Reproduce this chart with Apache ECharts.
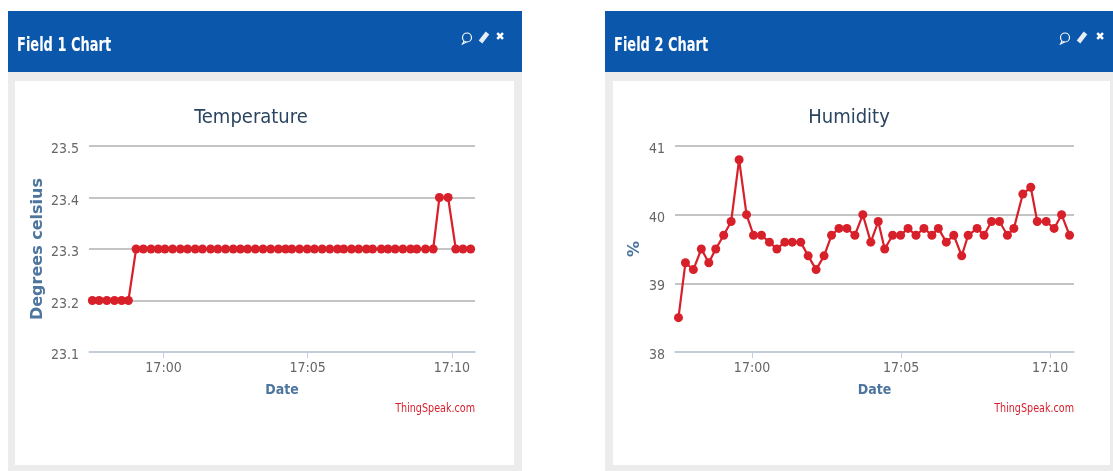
<!DOCTYPE html>
<html>
<head>
<meta charset="utf-8">
<style>html,body{margin:0;padding:0;background:#fff}#c{width:1113px;height:471px}</style>
<script src="https://cdn.jsdelivr.net/npm/echarts@6/dist/echarts.min.js"></script>
</head>
<body>
<div id="c"></div>
<script>
const times = ['16:57:32','16:57:46','16:58:02','16:58:18','16:58:33','16:58:47','16:59:03','16:59:18','16:59:34','16:59:49',
'17:00:03','17:00:19','17:00:35','17:00:50','17:01:06','17:01:21','17:01:38','17:01:53','17:02:09','17:02:25',
'17:02:40','17:02:55','17:03:11','17:03:27','17:03:43','17:03:59','17:04:14','17:04:27','17:04:43','17:04:59',
'17:05:14','17:05:30','17:05:46','17:06:02','17:06:15','17:06:31','17:06:46','17:07:02','17:07:15','17:07:33',
'17:07:47','17:08:02','17:08:18','17:08:34','17:08:47','17:09:05','17:09:21','17:09:34','17:09:52','17:10:08',
'17:10:23','17:10:39'];
const temperature = [23.2,23.2,23.2,23.2,23.2,23.2,
23.3,23.3,23.3,23.3,23.3,23.3,23.3,23.3,23.3,23.3,23.3,23.3,23.3,23.3,23.3,23.3,23.3,23.3,23.3,23.3,
23.3,23.3,23.3,23.3,23.3,23.3,23.3,23.3,23.3,23.3,23.3,23.3,23.3,23.3,23.3,23.3,23.3,23.3,23.3,23.3,23.3,
23.4,23.4,23.3,23.3,23.3];
const humidity = [38.5,39.3,39.2,39.5,39.3,39.5,39.7,39.9,40.8,40.0,
39.7,39.7,39.6,39.5,39.6,39.6,39.6,39.4,39.2,39.4,
39.7,39.8,39.8,39.7,40.0,39.6,39.9,39.5,39.7,39.7,
39.8,39.7,39.8,39.7,39.8,39.6,39.7,39.4,39.7,39.8,
39.7,39.9,39.9,39.7,39.8,40.3,40.4,39.9,39.9,39.8,
40.0,39.7];
const panelHeads = ['Field 1 Chart','Field 2 Chart'];
const chartTitles = ['Temperature','Humidity'];
const yNames = ['Degrees celsius','%'];
const xName = 'Date';
const credit = 'ThingSpeak.com';

const toDate = s => { const p = s.split(':').map(Number); return new Date(2016,0,1,p[0],p[1],p[2]).getTime(); };
const pairs = vals => times.map((t,i)=>[toDate(t), vals[i]]);

const RED = '#d8202a', BLUE = '#4d759e', GRAY = '#666', TITLE = '#2b4560';
const NARROW = '"DejaVu Sans Condensed",Lato,sans-serif';
const layouts = [
  {px:8,pw:514,wx:15,ww:499,gl:89,gr:475,nameGap:43,ymin:23.1,ymax:23.5,yint:0.1,dec:1,cx:251,icons:[467,484,500]},
  {px:605,pw:508,wx:613,ww:497,gl:675,gr:1074,nameGap:32,ymin:38,ymax:41,yint:1,dec:0,cx:849,icons:[1065,1082,1100]}
];

const gfx = [];
layouts.forEach((L,i)=>{
  gfx.push({type:'rect',z:-5,silent:true,shape:{x:L.px,y:72,width:L.pw,height:399},style:{fill:'#ececec'}});
  gfx.push({type:'rect',z:-4,silent:true,shape:{x:L.wx,y:81,width:L.ww,height:384},style:{fill:'#ffffff'}});
  gfx.push({type:'rect',z:-4,silent:true,shape:{x:L.px,y:11,width:L.pw,height:61},style:{fill:'#0b57ab'}});
  gfx.push({type:'text',z:-3,silent:true,x:L.px+9,y:46,scaleX:0.76,style:{x:0,y:0,text:panelHeads[i],fill:'#fff',font:'bold 19px '+NARROW,textVerticalAlign:'middle'}});
  gfx.push({type:'text',z:-3,silent:true,x:L.gr,y:409,scaleX:0.82,style:{x:0,y:0,text:credit,fill:'#d81e2c',font:'13px '+NARROW,textAlign:'right',textVerticalAlign:'middle'}});
  const [a,b,c] = L.icons;
  gfx.push({type:'circle',z:-3,silent:true,shape:{cx:a,cy:37.5,r:4.5},style:{fill:'none',stroke:'#fff',lineWidth:1.2}});
  gfx.push({type:'polyline',z:-3,silent:true,shape:{points:[[a-3,41],[a-4.5,44],[a-0.5,42]]},style:{fill:'none',stroke:'#fff',lineWidth:1.1}});
  gfx.push({type:'line',z:-3,silent:true,shape:{x1:b-3.5,y1:42,x2:b+3.5,y2:33},style:{stroke:'#e8eef6',lineWidth:4.5}});
  gfx.push({type:'text',z:-3,silent:true,style:{x:c,y:37.5,text:'\u2716',fill:'#fff',font:'11px "DejaVu Sans"',textAlign:'center',textVerticalAlign:'middle'}});
});

const option = {
  animation:false,
  backgroundColor:'#fff',
  graphic:{elements:gfx},
  title: layouts.map((L,i)=>(
    {text:chartTitles[i],left:L.cx,top:108,padding:0,textAlign:'center',textStyle:{color:TITLE,fontSize:20,fontWeight:'normal',fontFamily:NARROW}}
  )),
  grid: layouts.map(L=>({left:L.gl,width:L.gr-L.gl,top:146,height:206,containLabel:false})),
  xAxis: layouts.map((L,i)=>({
    type:'time',gridIndex:i,
    min:toDate('16:57:25'),max:toDate('17:10:48'),
    splitNumber:2,
    name:xName,nameLocation:'middle',nameGap:31,
    nameTextStyle:{color:BLUE,fontSize:14,fontWeight:'bold',fontFamily:NARROW},
    axisLine:{lineStyle:{color:'#c0d0e0',width:1.5}},
    axisTick:{show:true,length:6,lineStyle:{color:'#c0d0e0'}},
    splitLine:{show:false},
    axisLabel:{formatter:'{HH}:{mm}',color:GRAY,fontSize:14,fontFamily:NARROW,margin:9,showMinLabel:false,showMaxLabel:false,hideOverlap:true}
  })),
  yAxis: layouts.map((L,i)=>({
    type:'value',gridIndex:i,min:L.ymin,max:L.ymax,interval:L.yint,
    name:yNames[i],nameLocation:'middle',nameGap:L.nameGap,nameRotate:90,
    nameTextStyle:{color:BLUE,fontSize:16,fontWeight:'bold',fontFamily:'"DejaVu Sans"'},
    axisLine:{show:false},axisTick:{show:false},
    splitLine:{show:true,lineStyle:{color:'#c4c4c4',width:2}},
    axisLabel:{color:GRAY,fontSize:14,fontFamily:NARROW,margin:10,
      formatter:v=>'{v|'+v.toFixed(L.dec)+'}',
      rich:{v:{color:GRAY,fontSize:14,fontFamily:NARROW,padding:[7,0,0,0]}}}
  })),
  series:[temperature,humidity].map((vals,i)=>({
    type:'line',xAxisIndex:i,yAxisIndex:i,data:pairs(vals),
    showSymbol:true,symbol:'circle',symbolSize:9,smooth:false,
    showAllSymbol:true,clip:false,
    lineStyle:{color:RED,width:2.2},itemStyle:{color:RED}
  }))
};
echarts.init(document.getElementById('c')).setOption(option);
</script>
</body>
</html>
